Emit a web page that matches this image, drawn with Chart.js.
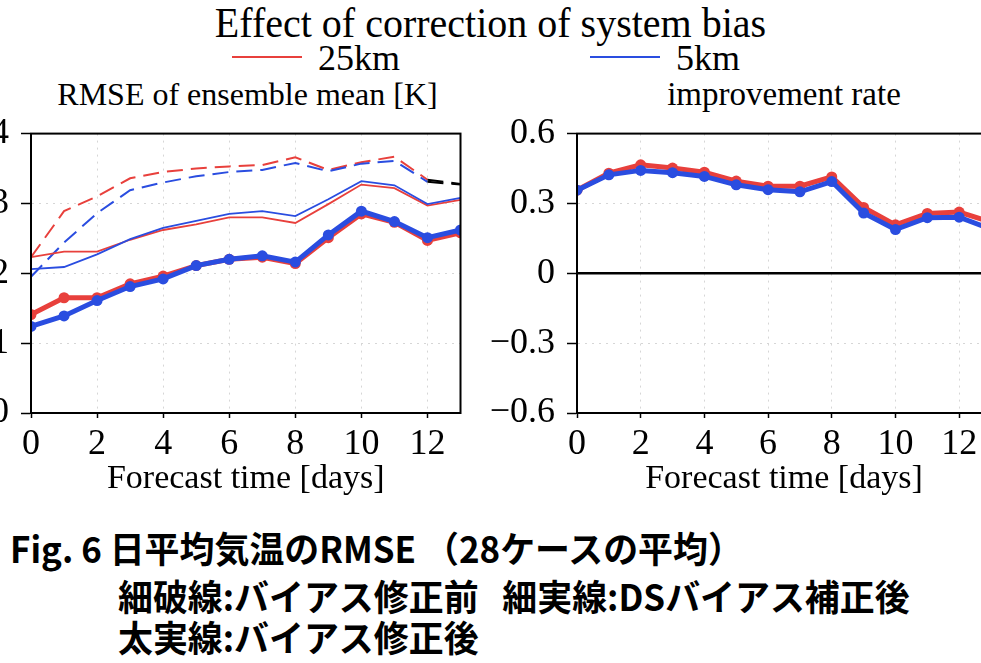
<!DOCTYPE html>
<html>
<head>
<meta charset="utf-8">
<script src="https://cdn.jsdelivr.net/npm/chart.js@4.4.0/dist/chart.umd.min.js"></script>
<style>
  html, body { margin: 0; padding: 0; background: #fff; }
  body { width: 981px; height: 663px; overflow: hidden; position: relative; }
  .t { position: absolute; font-family: "Liberation Serif", serif; color: #000; white-space: nowrap; line-height: 1; }
  #title { left: 0; width: 981px; text-align: center; top: 3px; font-size: 40px; transform: scaleY(1.08); }
  .sub { font-size: 32px; top: 78px; text-align: center; }
  .leg { font-size: 36px; top: 40px; }
  .swatch { position: absolute; height: 2px; top: 56px; width: 70px; }
  .cap { position: absolute; font-family: "Noto Sans CJK JP", sans-serif; font-weight: bold; font-size: 36px; white-space: pre; line-height: 1; color: #000; transform-origin: 0 0; transform: scaleX(0.97); }
  .box { position: absolute; }
</style>
</head>
<body>
<div id="title" class="t">Effect of correction of system bias</div>
<div class="swatch" style="left:232px;background:#e8403c"></div>
<div class="t leg" style="left:318px">25km</div>
<div class="swatch" style="left:590px;background:#2a4de0"></div>
<div class="t leg" style="left:676px">5km</div>
<div class="t sub" style="left:31px;width:433px">RMSE of ensemble mean [K]</div>
<div class="t sub" style="left:577px;width:414px;font-size:33px">improvement rate</div>

<div class="box" style="left:-45px;top:100px;width:511px;height:410px"><canvas id="rmse" width="511" height="410"></canvas></div>
<div class="box" style="left:470px;top:100px;width:530px;height:410px"><canvas id="rate" width="530" height="410"></canvas></div>

<div class="cap" style="left:10px;top:529px">Fig. 6 日平均気温のRMSE （28ケースの平均）</div>
<div class="cap" style="left:118px;top:577px">細破線:バイアス修正前   細実線:DSバイアス補正後</div>
<div class="cap" style="left:118px;top:618px">太実線:バイアス修正後</div>

<script>
// forecast days
var days = [0, 1, 2, 3, 4, 5, 6, 7, 8, 9, 10, 11, 12, 13];
var dayTicks = [0, 2, 4, 6, 8, 10, 12];

// RMSE [K] - before bias correction (thin dashed)
var rawRed = [2.23, 2.89, 3.10, 3.36, 3.45, 3.50, 3.53, 3.55, 3.66, 3.48, 3.59, 3.67, 3.34, 3.28];
var rawBlue = [1.95, 2.44, 2.86, 3.19, 3.30, 3.39, 3.45, 3.48, 3.58, 3.46, 3.57, 3.61, 3.31, 3.27];
// RMSE [K] - after DS bias correction (thin solid)
var dsRed = [2.23, 2.31, 2.31, 2.48, 2.62, 2.70, 2.80, 2.80, 2.72, 2.99, 3.27, 3.22, 2.97, 3.05];
var dsBlue = [2.06, 2.09, 2.27, 2.49, 2.65, 2.75, 2.85, 2.89, 2.82, 3.06, 3.32, 3.26, 2.99, 3.08];
// RMSE [K] - after bias correction (thick solid)
var corRed = [1.41, 1.65, 1.65, 1.85, 1.96, 2.11, 2.20, 2.23, 2.14, 2.51, 2.85, 2.73, 2.47, 2.58];
var corBlue = [1.24, 1.39, 1.61, 1.81, 1.92, 2.11, 2.20, 2.25, 2.16, 2.55, 2.89, 2.74, 2.51, 2.62];

// improvement rate
var rateRed = [0.357, 0.430, 0.466, 0.452, 0.434, 0.396, 0.374, 0.374, 0.414, 0.283, 0.208, 0.257, 0.263, 0.22];
var rateBlue = [0.357, 0.423, 0.442, 0.432, 0.416, 0.380, 0.359, 0.350, 0.394, 0.259, 0.188, 0.239, 0.241, 0.19];

var rmseTicks = [0, 1, 2, 3, 4];
var rateTicks = [-0.6, -0.3, 0, 0.3, 0.6];

var RED = '#e8403c';
var BLUE = '#2a4de0';
var SERIF = 'Liberation Serif';

function pts(arr) {
    return days.map(function (d, i) { return { x: d, y: arr[i] }; });
}

function thick(arr, color) {
    return {
        data: pts(arr), borderColor: color, backgroundColor: color,
        borderWidth: 5, pointRadius: 5.5, pointBorderWidth: 0, tension: 0
    };
}

function thin(arr, color, dashed) {
    var ds = {
        data: pts(arr), borderColor: color, borderWidth: dashed ? 2 : 1.8,
        pointRadius: 0, tension: 0
    };
    if (dashed) {
        ds.borderDash = [16, 8];
        // last leg is drawn black in the original
        ds.segment = { borderColor: function (ctx) { return ctx.p0DataIndex === 12 ? '#000' : undefined; } };
    }
    return ds;
}

// box around the plot area
var framePlugin = {
    id: 'frame',
    afterDatasetsDraw: function (chart) {
        var ctx = chart.ctx, a = chart.chartArea;
        ctx.save();
        ctx.strokeStyle = '#000';
        ctx.lineWidth = 2;
        ctx.strokeRect(a.left, a.top, a.right - a.left, a.bottom - a.top);
        ctx.restore();
    }
};

var zeroPlugin = {
    id: 'zero',
    beforeDatasetsDraw: function (chart) {
        var ctx = chart.ctx, a = chart.chartArea;
        var y = chart.scales.y.getPixelForValue(0);
        ctx.save();
        ctx.strokeStyle = '#000';
        ctx.lineWidth = 2.5;
        ctx.beginPath();
        ctx.moveTo(a.left, y);
        ctx.lineTo(a.right, y);
        ctx.stroke();
        ctx.restore();
    }
};

function xAxis() {
    return {
        type: 'linear', min: 0, max: 13, bounds: 'data',
        afterBuildTicks: function (s) { s.ticks = dayTicks.map(function (v) { return { value: v }; }); },
        ticks: { color: '#000', padding: 5, maxRotation: 0, autoSkip: false,
                 font: { family: SERIF, size: 36 } },
        grid: { color: function (c) { return (c.tick && c.tick.value === 0) ? 'rgba(0,0,0,0)' : '#d6d6d6'; },
                lineWidth: 1, tickColor: '#000', tickLength: 5, tickWidth: 1.5 },
        border: { color: '#000', width: 2, dash: [2, 5] },
        title: { display: true, text: 'Forecast time [days]', color: '#000',
                 font: { family: SERIF, size: 34 }, padding: { top: 0, bottom: 11 } },
        afterFit: function (s) { s.height = 97; }
    };
}

function yAxis(tickVals, width, fmt) {
    return {
        type: 'linear', min: tickVals[0], max: tickVals[tickVals.length - 1],
        afterBuildTicks: function (s) { s.ticks = tickVals.map(function (v) { return { value: v }; }); },
        ticks: { color: '#000', padding: 12, autoSkip: false, font: { family: SERIF, size: 36 }, callback: fmt },
        grid: { color: function (c) { return (c.tick && (c.tick.value === tickVals[0] || c.tick.value === tickVals[tickVals.length - 1])) ? 'rgba(0,0,0,0)' : '#d6d6d6'; },
                lineWidth: 1, tickColor: '#000', tickLength: 10, tickWidth: 1.5 },
        border: { color: '#000', width: 2, dash: [2, 5] },
        afterFit: function (s) { s.width = width; }
    };
}

new Chart(document.getElementById('rmse').getContext('2d'), {
    type: 'line',
    data: {
        datasets: [
            thick(corBlue, BLUE),
            thick(corRed, RED),
            thin(dsBlue, BLUE, false),
            thin(dsRed, RED, false),
            thin(rawBlue, BLUE, true),
            thin(rawRed, RED, true)
        ]
    },
    options: {
        responsive: false, animation: false,
        layout: { padding: { top: 13, right: 2, left: 0, bottom: 0 } },
        plugins: { legend: { display: false }, tooltip: { enabled: false } },
        scales: {
            x: xAxis(),
            y: yAxis(rmseTicks, 76, function (v) { return String(v); })
        }
    },
    plugins: [framePlugin]
});

new Chart(document.getElementById('rate').getContext('2d'), {
    type: 'line',
    data: {
        datasets: [
            thick(rateBlue, BLUE),
            thick(rateRed, RED)
        ]
    },
    options: {
        responsive: false, animation: false,
        layout: { padding: { top: 13, right: 9, left: 0, bottom: 0 } },
        plugins: { legend: { display: false }, tooltip: { enabled: false } },
        scales: {
            x: xAxis(),
            y: yAxis(rateTicks, 107, function (v) {
                if (v === 0) return '0';
                return (v < 0 ? '\u2212' : '') + Math.abs(v).toFixed(1);
            })
        }
    },
    plugins: [zeroPlugin, framePlugin]
});
</script>
</body>
</html>
